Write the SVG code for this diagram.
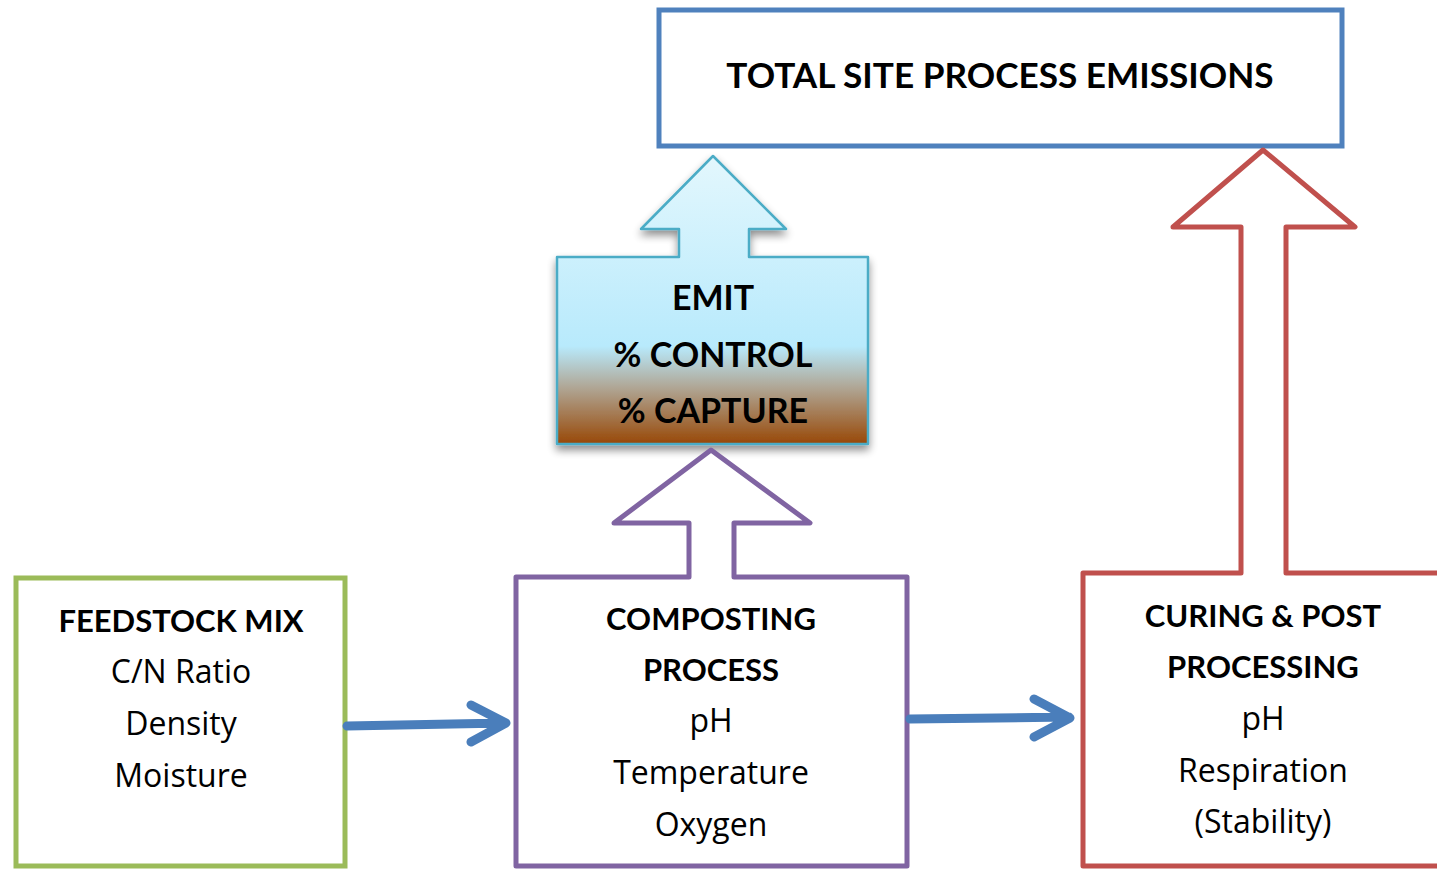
<svg xmlns="http://www.w3.org/2000/svg" width="1437" height="869" viewBox="0 0 1437 869">
<style>
.t{font-family:Lato,"Open Sans","Liberation Sans",sans-serif;fill:#000;text-anchor:middle}
.b{font-weight:bold}
.n{font-family:"Open Sans",Lato,"Liberation Sans",sans-serif;font-size:32px}
.h{font-size:31px}
.conn{stroke:#4a7ebb;stroke-width:9;fill:none;stroke-linecap:round;stroke-linejoin:round}
</style>
<defs>
<linearGradient id="g" x1="0" y1="0" x2="0" y2="1">
<stop offset="0" stop-color="#e3f7fd"/>
<stop offset="0.66" stop-color="#b8eafc"/>
<stop offset="0.8" stop-color="#b0a898"/>
<stop offset="1" stop-color="#984807"/>
</linearGradient>
<filter id="sh" x="-10%" y="-10%" width="120%" height="130%">
<feGaussianBlur in="SourceAlpha" stdDeviation="4"/>
<feOffset dy="5"/>
<feComponentTransfer><feFuncA type="linear" slope="0.45"/></feComponentTransfer>
<feMerge><feMergeNode/><feMergeNode in="SourceGraphic"/></feMerge>
</filter>
</defs>
<rect width="1437" height="869" fill="#fff"/>
<g id="total">
<rect x="659" y="10" width="683" height="136" fill="#fff" stroke="#4f81bd" stroke-width="5"/>
<text class="t b" x="1000" y="88" font-size="35.2">TOTAL SITE PROCESS EMISSIONS</text>
</g>
<g id="emit">
<path d="M557,257 L679,257 L679,229 L641,229 L713,156 L786,229 L749,229 L749,257 L868,257 L868,444 L557,444 Z" fill="url(#g)" stroke="#4bacc6" stroke-width="2.5" stroke-linejoin="round" filter="url(#sh)"/>
<text class="t b" x="713" y="310" font-size="34">EMIT</text>
<text class="t b" x="713" y="367" font-size="34">% CONTROL</text>
<text class="t b" x="713" y="423" font-size="34">% CAPTURE</text>
</g>
<g id="feedstock">
<rect x="16" y="578" width="329" height="288" fill="#fff" stroke="#9bbb59" stroke-width="5"/>
<text class="t b h" x="181" y="632">FEEDSTOCK MIX</text>
<text class="t n" x="181" y="683">C/N Ratio</text>
<text class="t n" x="181" y="735">Density</text>
<text class="t n" x="181" y="787">Moisture</text>
</g>
<g id="composting">
<path d="M516,866 L516,577 L689,577 L689,523 L614,523 L711,450 L810,523 L734,523 L734,577 L907,577 L907,866 Z" fill="#fff" stroke="#8064a2" stroke-width="5" stroke-linejoin="round"/>
<text class="t b h" x="711" y="630">COMPOSTING</text>
<text class="t b h" x="711" y="681">PROCESS</text>
<text class="t n" x="711" y="732">pH</text>
<text class="t n" x="711" y="784">Temperature</text>
<text class="t n" x="711" y="836">Oxygen</text>
</g>
<g id="curing">
<path d="M1083,866 L1083,573 L1241,573 L1241,227 L1173,227 L1263,150 L1355,227 L1286,227 L1286,573 L1445,573 L1445,866 Z" fill="#fff" stroke="#c0504d" stroke-width="5" stroke-linejoin="round"/>
<text class="t b h" x="1263" y="627">CURING &amp; POST</text>
<text class="t b h" x="1263" y="678">PROCESSING</text>
<text class="t n" x="1263" y="730">pH</text>
<text class="t n" x="1263" y="782">Respiration</text>
<text class="t n" x="1263" y="833">(Stability)</text>
</g>
<g id="connectors">
<path class="conn" d="M347,726 L505,723 M471,705 L506,723 L471,742"/>
<path class="conn" d="M910,719 L1069,717 M1034,699 L1070,718 L1034,737"/>
</g>
</svg>
